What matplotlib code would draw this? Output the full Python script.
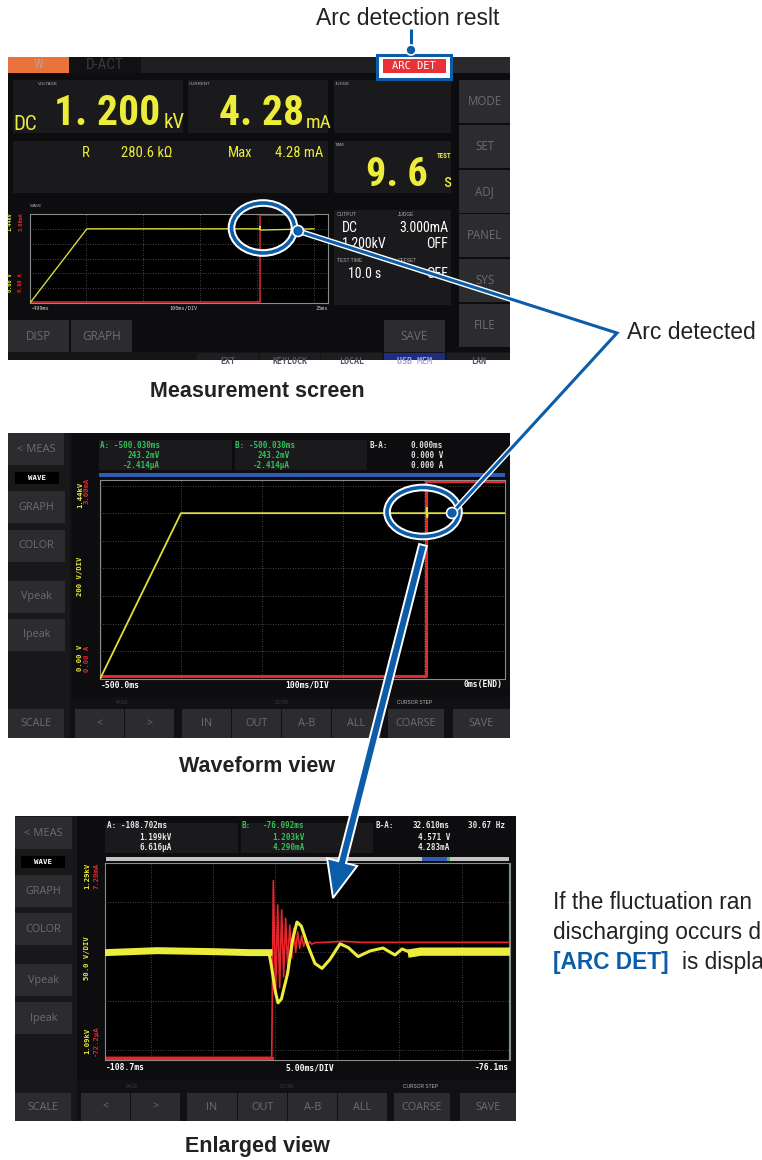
import matplotlib
matplotlib.use('Agg')
import matplotlib.pyplot as plt
from matplotlib import font_manager
from matplotlib.patches import Rectangle, Ellipse, Circle, FancyArrow

W, H = 762, 1160

# measurement screen trend, 100 ms/DIV (ms, kV, mA)
meas_t = [-499, -399, -200, -95, -94.5, -94, 0]
meas_kv = [0.0, 1.2, 1.2, 1.2, 1.24, 1.18, 1.2]
meas_t_i = [-499, -95, -95, 0]
meas_ma = [0.03, 0.03, 3.57, 3.57]

# waveform view, 100 ms/DIV
wave_t = [-500, -400, -97, -96.5, -96, -95.5, 0]
wave_kv = [0.0, 1.2, 1.2, 1.24, 1.17, 1.2, 1.2]
wave_t_i = [-500, -97.5, -97.5, 0]
wave_ma = [0.05, 0.05, 3.58, 3.58]
wave_cursor = -500.03

# enlarged view, 5 ms/DIV
enl_t_v = [-108.7, -104.5, -100.0, -97.0, -95.5, -95.3, -95.0, -94.77, -94.5, -94.0,
           -93.6, -93.25, -92.9, -92.4, -91.8, -91.23, -90.6, -89.78, -89.1, -88.33,
           -87.37, -86.32, -85.36, -84.79, -83.99, -83.3, -80.0, -76.1]
enl_kv = [1.199, 1.201, 1.200, 1.199, 1.199, 1.185, 1.160, 1.148, 1.152, 1.178,
          1.212, 1.230, 1.226, 1.207, 1.188, 1.183, 1.192, 1.208, 1.204, 1.195,
          1.2007, 1.2037, 1.1966, 1.2027, 1.1986, 1.200, 1.200, 1.200]
enl_t_i = [-108.7, -95.28, -95.15, -94.97, -94.80, -94.64, -94.48, -94.32, -94.16, -94.0,
           -93.83, -93.67, -93.51, -93.35, -93.19, -93.03, -92.87, -92.71, -92.55, -92.39,
           -92.22, -92.06, -91.8, -91.0, -89.6, -88.0, -76.1]
enl_ma = [0.02, 0.02, 6.55, 2.3, 5.65, 2.6, 5.47, 3.0, 5.16, 3.4,
          4.91, 3.7, 4.79, 3.9, 4.66, 4.05, 4.51, 4.12, 4.38, 4.16,
          4.30, 4.2, 4.26, 4.27, 4.31, 4.27, 4.27]
enl_cursor_a = -108.702
enl_cursor_b = -76.092

# note on the right, as far as the reference shows it
note_lines = ['If the fluctuation ran', 'discharging occurs d']
note_key = '[ARC DET]'
note_tail = 'is displa'

BLUE = '#0c5da9'
SCREEN = '#0d0d0f'
PANEL = '#1a1a1d'
BTN = '#2c2c2f'
BTN_TXT = '#6c6c70'
YEL = '#ecec3a'
RED = '#e8262e'
GRN = '#2fc458'
GRID = '#5c5c5c'

avail = {f.name for f in font_manager.fontManager.ttflist}
NARROW = next((n for n in ['Liberation Sans Narrow', 'Roboto Condensed', 'Open Sans Condensed']
               if n in avail), 'DejaVu Sans')
MONO = 'DejaVu Sans Mono'
UI = 'Open Sans' if 'Open Sans' in avail else 'DejaVu Sans'
SANS = 'Liberation Sans'

fig = plt.figure(figsize=(W / 100, H / 100), dpi=100)
cv = fig.add_axes([0, 0, 1, 1])
cv.set_xlim(0, W)
cv.set_ylim(H, 0)
cv.axis('off')


def box(x, y, w, h, fc, ec='none', lw=0, z=1):
    r = Rectangle((x, y), w, h, fc=fc, ec=ec, lw=lw, zorder=z)
    cv.add_patch(r)
    return r


def txt(x, y, s, size, color, ha='left', va='center', fam=MONO, weight='normal', rot=0, ax=None, **kw):
    return (ax or cv).text(x, y, s, fontsize=size, color=color, ha=ha, va=va,
                           family=fam, fontweight=weight, rotation=rot, zorder=5, **kw)


def button(x, y, w, h, label, size=7.8):
    box(x, y, w, h, BTN, z=2)
    txt(x + w / 2, y + h / 2, label, size, BTN_TXT, ha='center', fam=UI)


def scope(x, y, w, h, xlim, vlim, ilim, xgrid, vgrid):
    a = fig.add_axes([x / W, 1 - (y + h) / H, w / W, h / H])
    a.set_facecolor('black')
    a.set_xlim(*xlim)
    a.set_ylim(*ilim)
    a.set_xticks([])
    a.set_yticks([])
    for s in a.spines.values():
        s.set_color('#8a8a8a')
        s.set_linewidth(0.8)
    for g in xgrid:
        a.axvline(g, color=GRID, lw=0.6, ls=(0, (1, 2)), zorder=0)
    b = a.twinx()
    b.set_ylim(*vlim)
    b.axis('off')
    for g in vgrid:
        b.axhline(g, color=GRID, lw=0.6, ls=(0, (1, 2)), zorder=0)
    return a, b


# ================= measurement screen =================
box(8, 57, 502, 303, SCREEN)
box(8, 57, 502, 16, '#1e1e21')
box(8, 57, 61, 16, '#e9733b')
txt(38, 65, 'W', 9, '#a8a8a8', ha='center', fam=NARROW)
box(69, 57, 72, 16, '#111113')
txt(105, 65, 'D-ACT', 11, '#3a3a3e', ha='center', fam=NARROW)
box(451, 57, 59, 16, '#2a2a2d')
box(377, 55, 74, 24, 'white', ec=BLUE, lw=2.2, z=3)
box(383, 59, 63, 14, '#e8323a', z=3)
txt(414, 66, 'ARC DET', 7.5, 'white', ha='center', fam=MONO)

box(13, 80, 170, 53, PANEL)
box(188, 80, 140, 53, PANEL)
box(334, 80, 117, 53, PANEL)
box(13, 141, 315, 52, PANEL)
box(334, 141, 117, 52, PANEL)
for x, lab in [(38, 'VOLTAGE'), (189, 'CURRENT'), (335, 'JUDGE'), (335, 'TIME')]:
    txt(x, 84 if lab != 'TIME' else 145, lab, 3.2, '#b0b0b0', fam=SANS)
txt(13, 130, 'DC', 15, YEL, va='baseline', fam=NARROW)
txt(160, 125, '1. 200', 30, YEL, ha='right', va='baseline', fam=NARROW, weight='bold')
txt(164, 128, 'kV', 15, YEL, va='baseline', fam=NARROW)
txt(304, 125, '4. 28', 30, YEL, ha='right', va='baseline', fam=NARROW, weight='bold')
txt(306, 128, 'mA', 14, YEL, va='baseline', fam=NARROW)
txt(82, 153, 'R', 10.5, YEL, fam=[NARROW, 'DejaVu Sans'])
txt(172, 153, '280.6 kΩ', 10.5, YEL, ha='right', fam=[NARROW, 'DejaVu Sans'])
txt(228, 153, 'Max', 10.5, YEL, fam=NARROW)
txt(323, 153, '4.28 mA', 10.5, YEL, ha='right', fam=NARROW)
txt(428, 186, '9. 6', 29, YEL, ha='right', va='baseline', fam=NARROW, weight='bold')
txt(451, 156, 'TEST', 5, YEL, ha='right', fam=NARROW, weight='bold')
txt(451, 187, 's', 13, YEL, ha='right', va='baseline', fam=NARROW)

for y0, y1, lab in [(80, 123, 'MODE'), (125, 168, 'SET'), (170, 213, 'ADJ'),
                    (214, 257, 'PANEL'), (259, 302, 'SYS'), (304, 347, 'FILE')]:
    button(459, y0, 51, y1 - y0, lab, 8.3)

txt(30, 206, 'WAVE', 3.2, '#b0b0b0', fam=SANS)
box(334, 210, 117, 95, PANEL)
txt(337, 215, 'OUTPUT', 3.5, '#b0b0b0', fam=SANS)
txt(398, 215, 'JUDGE', 3.5, '#b0b0b0', fam=SANS)
txt(342, 228, 'DC', 10, 'white', fam=NARROW)
txt(448, 228, '3.000mA', 10, 'white', ha='right', fam=NARROW)
txt(342, 244, '1.200kV', 10, 'white', fam=NARROW)
txt(448, 244, 'OFF', 10, 'white', ha='right', fam=NARROW)
txt(337, 261, 'TEST TIME', 3.5, '#b0b0b0', fam=SANS)
txt(398, 261, 'OFFSET', 3.5, '#b0b0b0', fam=SANS)
txt(348, 274, '10.0 s', 10, 'white', fam=NARROW)
txt(448, 274, 'OFF', 10, 'white', ha='right', fam=NARROW)

txt(10, 222, '1.44kV', 3.8, YEL, ha='center', rot=90, weight='bold')
txt(21, 222, '3.60mA', 3.8, RED, ha='center', rot=90, weight='bold')
txt(10, 283, '0.00 V', 3.8, YEL, ha='center', rot=90, weight='bold')
txt(21, 283, '0.00 A', 3.8, RED, ha='center', rot=90, weight='bold')
txt(30, 308, '-499ms', 3.8, '#d0d0d0')
txt(183, 308, '100ms/DIV', 3.8, '#d0d0d0', ha='center')
txt(328, 308, '25ms', 3.8, '#d0d0d0', ha='right')

button(8, 320, 61, 32, 'DISP', 8.5)
button(71, 320, 61, 32, 'GRAPH', 8.5)
button(384, 320, 61, 32, 'SAVE', 8.5)
box(8, 352, 502, 8, '#141417')
clip = Rectangle((8, 352), 502, 8, transform=cv.transData)
for x0, x1, lab, fc, tc in [(197, 258, 'EXT', '#1e1e22', '#55555a'), (260, 320, 'KEYLOCK', '#1e1e22', '#55555a'),
                            (321, 382, 'LOCAL', '#1e1e22', '#55555a'), (384, 445, 'USB MEM', '#1f2c80', '#9aa6e0'),
                            (447, 510, 'LAN', '#1e1e22', '#55555a')]:
    box(x0, 353, x1 - x0, 7, fc, z=2)
    t = txt((x0 + x1) / 2, 361, lab, 6, tc, ha='center', weight='bold')
    t.set_clip_path(clip)

a1, b1 = scope(30, 214, 298, 89, (-499, 25), (0, 1.44), (0, 3.6),
               [-400, -300, -200, -100, 0], [0.24, 0.48, 0.72, 0.96, 1.2])
a1.plot(meas_t_i, meas_ma, color=RED, lw=1.1)
b1.plot(meas_t, meas_kv, color='#d8d83a', lw=1.0)

# ================= waveform view =================
box(8, 433, 502, 305, '#111113')
box(8, 433, 62, 305, '#18181b')
box(72, 433, 438, 264, SCREEN)
button(8, 433, 56, 32, '< MEAS', 8)
box(15, 472, 44, 12, 'black', z=2)
txt(37, 478, 'WAVE', 5.3, 'white', ha='center', weight='bold')
for y0, lab in [(491, 'GRAPH'), (530, 'COLOR'), (581, 'Vpeak'), (619, 'Ipeak')]:
    button(8, y0, 57, 32, lab)
box(99, 440, 133, 30, PANEL)
box(235, 440, 132, 30, PANEL)
for x0, x1, col, lines in [(100, 160, GRN, ['A: -500.030ms', '243.2mV', '-2.414µA']),
                           (235, 290, GRN, ['B: -500.030ms', '243.2mV', '-2.414µA'])]:
    txt(x0, 445, lines[0], 5.5, col, weight='bold')
    txt(x1, 455, lines[1], 5.5, col, ha='right', weight='bold')
    txt(x1, 465, lines[2], 5.5, col, ha='right', weight='bold')
txt(370, 445, 'B-A:', 5.5, '#e0e0e0', weight='bold')
txt(443, 445, '0.000ms', 5.5, '#e0e0e0', ha='right', weight='bold')
txt(443, 455, '0.000 V', 5.5, '#e0e0e0', ha='right', weight='bold')
txt(443, 465, '0.000 A', 5.5, '#e0e0e0', ha='right', weight='bold')
box(99, 473, 406, 4, '#2f5cb8')
txt(80, 495, '1.44kV', 5.2, YEL, ha='center', rot=90, weight='bold')
txt(87, 491, '3.60mA', 5.2, RED, ha='center', rot=90, weight='bold')
txt(80, 576, '200 V/DIV', 5.2, YEL, ha='center', rot=90, weight='bold')
txt(80, 658, '0.00 V', 5.2, YEL, ha='center', rot=90, weight='bold')
txt(87, 659, '0.00 A', 5.2, RED, ha='center', rot=90, weight='bold')
txt(101, 685, '-500.0ms', 5.8, 'white', weight='bold')
txt(307, 685, '100ms/DIV', 5.8, 'white', ha='center', weight='bold')
txt(503, 685, '0ms(END)', 5.8, 'white', ha='right', weight='bold')
txt(122, 702, 'PAGE', 3.3, '#3c3c40', ha='center', fam=SANS)
txt(282, 702, 'ZOOM', 3.3, '#3c3c40', ha='center', fam=SANS)
txt(415, 702, 'CURSOR STEP', 3.5, '#b8b8b8', ha='center', fam=SANS)
for x0, x1, lab in [(8, 64, 'SCALE'), (75, 124, '<'), (125, 174, '>'), (182, 231, 'IN'),
                    (232, 281, 'OUT'), (282, 331, 'A-B'), (332, 381, 'ALL'),
                    (388, 444, 'COARSE'), (453, 510, 'SAVE')]:
    button(x0, 709, x1 - x0, 29, lab)

a2, b2 = scope(100, 480, 405, 199, (-500, 0), (0, 1.44), (0, 3.6),
               [-400, -300, -200, -100], [0.2, 0.4, 0.6, 0.8, 1.0, 1.2, 1.4])
a2.axvline(wave_cursor, color=GRN, lw=1.6)
a2.plot(wave_t_i, wave_ma, color=RED, lw=2.2)
b2.plot(wave_t, wave_kv, color='#e0e03a', lw=1.3)

# ================= enlarged view =================
box(15, 816, 501, 305, '#111113')
box(15, 816, 62, 305, '#18181b')
box(77, 816, 439, 264, SCREEN)
button(15, 817, 57, 32, '< MEAS', 8)
box(21, 856, 44, 12, 'black', z=2)
txt(43, 862, 'WAVE', 5.3, 'white', ha='center', weight='bold')
for y0, lab in [(875, 'GRAPH'), (913, 'COLOR'), (964, 'Vpeak'), (1002, 'Ipeak')]:
    button(15, y0, 57, 32, lab)
box(105, 823, 133, 30, PANEL)
box(241, 823, 132, 30, PANEL)
txt(107, 826, 'A: -108.702ms', 5.5, '#e8e8e8', weight='bold')
txt(172, 837, '1.199kV', 5.5, '#e8e8e8', ha='right', weight='bold')
txt(172, 847, '6.616µA', 5.5, '#e8e8e8', ha='right', weight='bold')
txt(242, 826, 'B:', 5.5, GRN, weight='bold')
txt(305, 826, '-76.092ms', 5.5, GRN, ha='right', weight='bold')
txt(305, 837, '1.203kV', 5.5, GRN, ha='right', weight='bold')
txt(305, 847, '4.290mA', 5.5, GRN, ha='right', weight='bold')
txt(375, 826, 'B-A:', 5.5, '#e8e8e8', weight='bold')
txt(450, 826, '32.610ms', 5.5, '#e8e8e8', ha='right', weight='bold')
txt(450, 837, '4.571 V', 5.5, '#e8e8e8', ha='right', weight='bold')
txt(450, 847, '4.283mA', 5.5, '#e8e8e8', ha='right', weight='bold')
txt(505, 826, '30.67 Hz', 5.5, '#e8e8e8', ha='right', weight='bold')
box(106, 857, 403, 4, '#c4c4c4')
box(422, 857, 25, 4, '#2f5cb8', z=2)
box(447, 857, 3, 4, GRN, z=2)
txt(87, 876, '1.29kV', 5.2, YEL, ha='center', rot=90, weight='bold')
txt(96, 876, '7.20mA', 5.2, RED, ha='center', rot=90, weight='bold')
txt(87, 958, '50.0 V/DIV', 5.2, YEL, ha='center', rot=90, weight='bold')
txt(87, 1041, '1.09kV', 5.2, YEL, ha='center', rot=90, weight='bold')
txt(96, 1041, '-72.2µA', 5.2, RED, ha='center', rot=90, weight='bold')
txt(106, 1068, '-108.7ms', 5.8, 'white', weight='bold')
txt(310, 1068, '5.00ms/DIV', 5.8, 'white', ha='center', weight='bold')
txt(509, 1068, '-76.1ms', 5.8, 'white', ha='right', weight='bold')
txt(132, 1086, 'PAGE', 3.3, '#3c3c40', ha='center', fam=SANS)
txt(287, 1086, 'ZOOM', 3.3, '#3c3c40', ha='center', fam=SANS)
txt(421, 1086, 'CURSOR STEP', 3.5, '#b8b8b8', ha='center', fam=SANS)
for x0, x1, lab in [(15, 71, 'SCALE'), (81, 130, '<'), (131, 180, '>'), (187, 237, 'IN'),
                    (238, 287, 'OUT'), (288, 337, 'A-B'), (338, 387, 'ALL'),
                    (394, 450, 'COARSE'), (460, 516, 'SAVE')]:
    button(x0, 1093, x1 - x0, 28, lab)

a3, b3 = scope(105, 863, 405, 197, (-108.7, -76.1), (1.09, 1.29), (-0.0722, 7.20),
               [-105, -100, -95, -90, -85, -80], [1.10, 1.15, 1.20, 1.25])
a3.axvline(enl_cursor_a, color='#d0d0d0', lw=1.2)
a3.axvline(enl_cursor_b, color=GRN, lw=1.6)
a3.plot(enl_t_i, enl_ma, color=RED, lw=1.2)
a3.plot(enl_t_i[:2], enl_ma[:2], color=RED, lw=2.4)
b3.plot(enl_t_v, enl_kv, color=YEL, lw=2.2)
b3.plot(enl_t_v[:5], enl_kv[:5], color=YEL, lw=5.0)
b3.plot(enl_t_v[24:], enl_kv[24:], color=YEL, lw=6.0)

# ================= annotations =================
ov = fig.add_axes([0, 0, 1, 1])
ov.set_xlim(0, W)
ov.set_ylim(H, 0)
ov.axis('off')
ov.patch.set_alpha(0)

ov.text(408, 25, 'Arc detection reslt', fontsize=16.5, family=SANS, color='#222', ha='center')
ov.plot([411, 411], [29, 50], color=BLUE, lw=2.2, solid_capstyle='butt')
ov.add_patch(Circle((411, 50), 5, fc=BLUE, ec='white', lw=1.2, zorder=4))

for (cx, cy, ew, eh) in [(263, 228, 63, 50), (423, 512, 72, 49)]:
    ov.add_patch(Ellipse((cx, cy), ew, eh, fill=False, ec='white', lw=5.5, zorder=3))
    ov.add_patch(Ellipse((cx, cy), ew, eh, fill=False, ec=BLUE, lw=2.6, zorder=3))

lx = [298, 617, 452]
ly = [231, 333, 513]
ov.plot(lx, ly, color='white', lw=4.2, zorder=3, solid_joinstyle='miter')
ov.plot(lx, ly, color=BLUE, lw=2.2, zorder=3, solid_joinstyle='miter')
ov.add_patch(Circle((298, 231), 5.5, fc=BLUE, ec='white', lw=1.2, zorder=4))
ov.add_patch(Circle((452, 513), 5.5, fc=BLUE, ec='white', lw=1.2, zorder=4))
ov.text(627, 339, 'Arc detected', fontsize=16.5, family=SANS, color='#222')

ov.add_patch(FancyArrow(423, 545, 333 - 423, 898 - 545, width=8, head_width=31, head_length=37,
                        length_includes_head=True, fc=BLUE, ec='white', lw=1.4, zorder=5))

ov.text(257, 397, 'Measurement screen', fontsize=15.5, family=SANS, weight='bold', color='#222', ha='center')
ov.text(257, 772, 'Waveform view', fontsize=15.5, family=SANS, weight='bold', color='#222', ha='center')
ov.text(257, 1152, 'Enlarged view', fontsize=15.5, family=SANS, weight='bold', color='#222', ha='center')

ov.text(553, 909, note_lines[0], fontsize=16.3, family=SANS, color='#222')
ov.text(553, 939, note_lines[1], fontsize=16.3, family=SANS, color='#222')
ov.text(553, 969, note_key, fontsize=16.3, family=SANS, weight='bold', color=BLUE)
ov.text(682, 969, note_tail, fontsize=16.3, family=SANS, color='#222')

fig.savefig('out.png', dpi=100, facecolor='white')
